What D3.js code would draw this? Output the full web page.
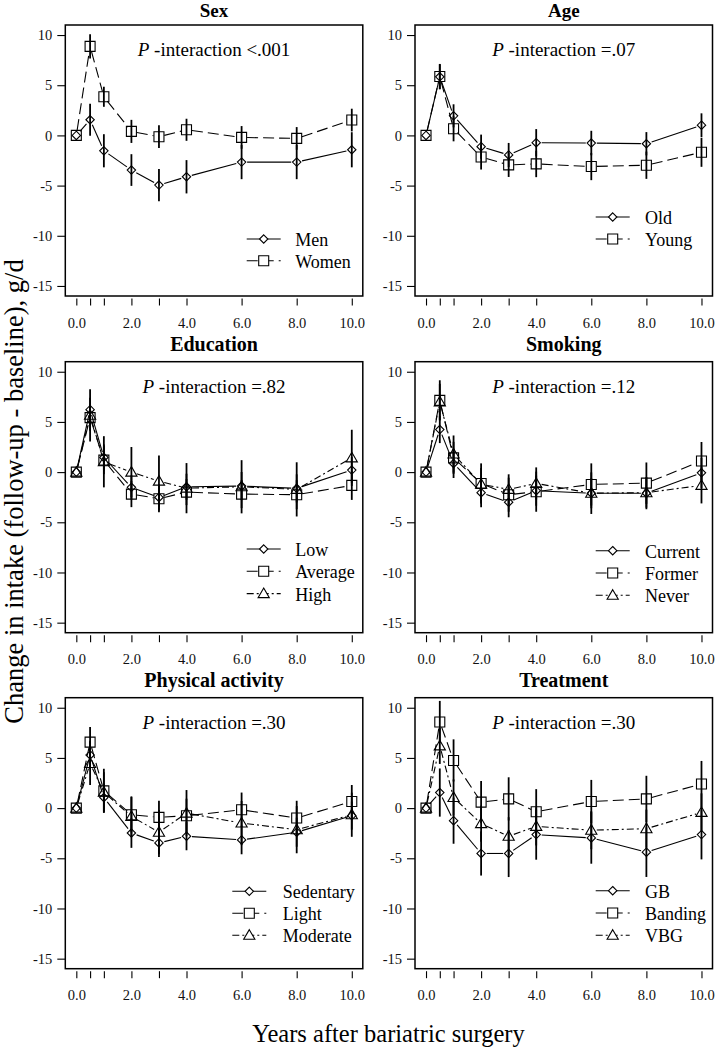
<!DOCTYPE html>
<html><head><meta charset="utf-8">
<script src="https://cdn.jsdelivr.net/npm/d3@7"></script>
<style>
body{margin:0;background:#fff}
svg{display:block;font-family:"Liberation Serif","Times New Roman",serif}
</style>
</head><body>
<svg id="c" width="715" height="1050"></svg>
<script>
// ---------- data ----------
const times = [0, 0.5, 1, 2, 3, 4, 6, 8, 10];
const xTickValues = [0, 0.5, 1, 2, 3, 4, 6, 8, 10];
const xTickLabels = [0, 2, 4, 6, 8, 10];
const yTickValues = [-15, -10, -5, 0, 5, 10];

const panelTitles = ["Sex", "Age", "Education", "Smoking", "Physical activity", "Treatment"];
const pInteraction = ["<.001", "=.07", "=.82", "=.12", "=.30", "=.30"];

// Sex
const men      = [0, 1.56, -1.53, -3.45, -4.95, -4.12, -2.66, -2.66, -1.43];
const menErr   = [0, 1.6, 1.65, 1.58, 1.6, 1.66, 1.7, 1.7, 1.75];
const women    = [0, 8.87, 3.85, 0.4, -0.13, 0.56, -0.2, -0.3, 1.53];
const womenErr = [0, 1.2, 1.0, 1.15, 1.13, 1.1, 1.13, 1.13, 1.13];
// Age
const old      = [0, 5.84, 1.95, -1.12, -1.95, -0.73, -0.76, -0.83, 1.02];
const oldErr   = [0, 1.25, 1.15, 1.2, 1.2, 1.36, 1.22, 1.16, 1.18];
const young    = [0, 5.87, 0.66, -2.15, -2.94, -2.84, -3.1, -2.97, -1.68];
const youngErr = [0, 1.25, 1.25, 1.25, 1.2, 1.32, 1.36, 1.36, 1.45];
// Education
const low        = [0, 6.22, 1.46, -1.52, -2.52, -1.46, -1.39, -1.62, 0.2];
const lowErr     = [0, 1.2, 1.3, 1.2, 1.3, 1.3, 1.4, 1.4, 1.3];
const average    = [0, 5.43, 1.19, -2.19, -2.65, -1.99, -2.19, -2.25, -1.32];
const averageErr = [0, 1.3, 1.4, 1.3, 1.35, 1.3, 1.4, 1.45, 1.45];
const high       = [0, 5.66, 1.03, 0.0, -0.9, -1.6, -1.46, -1.72, 1.42];
const highErr    = [0, 2.6, 2.55, 2.5, 2.55, 2.5, 2.65, 2.7, 2.8];
// Smoking
const current    = [0, 4.24, 0.86, -2.05, -3.0, -1.85, -2.1, -2.1, -0.07];
const currentErr = [0, 1.35, 1.45, 1.45, 1.5, 1.5, 1.5, 1.6, 1.5];
const former     = [0, 7.15, 1.42, -1.13, -2.25, -1.95, -1.23, -1.1, 1.1];
const formerErr  = [0, 2.0, 1.6, 2.0, 1.7, 2.0, 2.1, 2.06, 1.9];
const never      = [0, 7.0, 1.8, -1.2, -1.72, -1.13, -2.1, -2.05, -1.32];
const neverErr   = [0, 1.8, 1.85, 1.6, 1.5, 1.6, 2.07, 1.5, 1.8];
// Physical activity
const sedentary    = [0, 5.3, 1.06, -2.48, -3.47, -2.8, -3.17, -2.4, -0.75];
const sedentaryErr = [0, 1.4, 1.4, 1.48, 1.41, 1.4, 1.43, 1.45, 1.4];
const light        = [0, 6.57, 1.72, -0.66, -0.92, -0.76, -0.17, -0.99, 0.66];
const lightErr     = [0, 1.5, 2.2, 1.76, 1.65, 1.7, 1.72, 1.72, 1.64];
const moderate     = [0, 4.45, 1.58, -0.83, -2.4, -0.5, -1.49, -2.15, -0.66];
const moderateErr  = [0, 2.15, 2.0, 2.0, 2.2, 2.3, 2.2, 2.35, 2.2];
// Treatment
const gb         = [0, 1.55, -1.25, -4.52, -4.52, -2.64, -2.97, -4.39, -2.64];
const gbErr      = [0, 2.4, 2.3, 2.2, 2.35, 2.5, 2.57, 2.47, 2.47];
const banding    = [0, 8.58, 4.75, 0.6, 0.92, -0.36, 0.66, 0.92, 2.4];
const bandingErr = [0, 2.1, 2.1, 2.1, 2.15, 2.25, 2.15, 2.3, 2.3];
const vbg        = [0, 6.2, 1.06, -1.55, -2.8, -1.82, -2.2, -2.05, -0.43];
const vbgErr     = [0, 1.8, 1.8, 1.8, 1.9, 1.9, 1.9, 1.9, 1.9];

const seriesNames = [
  ["Men", "Women"], ["Old", "Young"], ["Low", "Average", "High"],
  ["Current", "Former", "Never"], ["Sedentary", "Light", "Moderate"], ["GB", "Banding", "VBG"]
];
const seriesValues = [
  [men, women], [old, young], [low, average, high],
  [current, former, never], [sedentary, light, moderate], [gb, banding, vbg]
];
const seriesErrs = [
  [menErr, womenErr], [oldErr, youngErr], [lowErr, averageErr, highErr],
  [currentErr, formerErr, neverErr], [sedentaryErr, lightErr, moderateErr], [gbErr, bandingErr, vbgErr]
];

// ---------- layout ----------
const colLeft = [65.3, 415];
const rowTop = [25, 361.7, 697.7];
const boxW = 297.5, boxH = 271;
const legendLayout = [
  {dx: 181.4, dy: 221, sp: 21.7, tx: 48.5},
  {dx: 180.7, dy: 199, sp: 22, tx: 49.3},
  {dx: 181.4, dy: 194.3, sp: 22.3, tx: 48.5},
  {dx: 180.7, dy: 196, sp: 22.3, tx: 49.3},
  {dx: 167, dy: 200.6, sp: 22, tx: 50.4},
  {dx: 180.7, dy: 200, sp: 22.3, tx: 49.3}
];
const dashes = [null, "11,5", "7,3,2,3"];
const FONT = "'Liberation Serif','Times New Roman',serif";

const x = d3.scaleLinear().domain([-0.4, 10.4]).range([0, boxW]);
const y = d3.scaleLinear().domain([-16, 11]).range([boxH, 0]);

const svg = d3.select("#c");

function markerPath(k) {
  if (k === 0) return "M0,-4.2L4.2,0L0,4.2L-4.2,0Z";
  if (k === 1) return "M-5,-5H5V5H-5Z";
  return "M0,-5.6L5.6,4L-5.6,4Z";
}

panelTitles.forEach((title, pi) => {
  const col = pi % 2, row = Math.floor(pi / 2);
  const g = svg.append("g").attr("transform", `translate(${colLeft[col]},${rowTop[row]})`);

  // y axis
  const ya = g.append("g").call(d3.axisLeft(y).tickValues(yTickValues).tickSize(8).tickPadding(5).tickFormat(d3.format("d")));
  ya.attr("font-family", FONT);
  ya.select(".domain").remove();
  ya.selectAll("text").attr("font-size", 14.5).attr("fill", "#111").text(d => d < 0 ? "-" + Math.abs(d) : d);
  ya.selectAll("line").attr("stroke", "#000").attr("stroke-width", 1.1);

  // x axis
  const xa = g.append("g").attr("transform", `translate(0,${boxH + 2.5})`)
    .call(d3.axisBottom(x).tickValues(xTickValues).tickSize(7).tickPadding(12)
      .tickFormat(d => xTickLabels.includes(d) ? d.toFixed(1) : ""));
  xa.attr("font-family", FONT);
  xa.select(".domain").remove();
  xa.selectAll("text").attr("font-size", 14.5).attr("fill", "#111");
  xa.selectAll("line").attr("stroke", "#000").attr("stroke-width", 1.1);

  // box
  g.append("rect").attr("x", 0).attr("y", 0).attr("width", boxW).attr("height", boxH)
    .attr("fill", "none").attr("stroke", "#000").attr("stroke-width", 1.5);

  // title
  const ty = Math.max(-11, 16.5 - rowTop[row]);
  g.append("text").attr("x", boxW / 2).attr("y", ty).attr("text-anchor", "middle")
    .attr("font-size", row === 0 ? 19 : 20).attr("font-weight", "bold").text(title);

  // P-interaction
  const pt = g.append("text").attr("x", boxW / 2).attr("y", 31).attr("text-anchor", "middle").attr("font-size", 19);
  pt.append("tspan").attr("font-style", "italic").text("P");
  pt.append("tspan").text(" -interaction " + pInteraction[pi]);

  const vals = seriesValues[pi], errs = seriesErrs[pi], names = seriesNames[pi];

  // error bars
  vals.forEach((s, si) => {
    g.append("g").selectAll("line").data(times.map((t, i) => ({t, v: s[i], e: errs[si][i]})).filter(d => d.e > 0))
      .join("line")
      .attr("x1", d => x(d.t)).attr("x2", d => x(d.t))
      .attr("y1", d => y(d.v + d.e)).attr("y2", d => y(d.v - d.e))
      .attr("stroke", "#000").attr("stroke-width", 1.8);
  });

  // lines with gaps (type "b")
  const gap = 5.5;
  vals.forEach((s, si) => {
    const segs = [];
    for (let i = 0; i < times.length - 1; i++) {
      const x1 = x(times[i]), y1 = y(s[i]), x2 = x(times[i + 1]), y2 = y(s[i + 1]);
      const L = Math.hypot(x2 - x1, y2 - y1);
      if (L > 2 * gap) {
        const ux = (x2 - x1) / L, uy = (y2 - y1) / L;
        segs.push([x1 + ux * gap, y1 + uy * gap, x2 - ux * gap, y2 - uy * gap]);
      }
    }
    g.append("g").selectAll("line").data(segs).join("line")
      .attr("x1", d => d[0]).attr("y1", d => d[1]).attr("x2", d => d[2]).attr("y2", d => d[3])
      .attr("stroke", "#000").attr("stroke-width", 1.1)
      .attr("stroke-dasharray", dashes[si]);
  });

  // markers
  vals.forEach((s, si) => {
    g.append("g").selectAll("path").data(times.map((t, i) => ({t, v: s[i]})))
      .join("path")
      .attr("transform", d => `translate(${x(d.t)},${y(d.v)})`)
      .attr("d", markerPath(si))
      .attr("fill", "none").attr("stroke", "#000").attr("stroke-width", 1.1);
  });

  // legend
  const L = legendLayout[pi];
  names.forEach((name, si) => {
    const by = L.dy + si * L.sp;
    const ly = by - 7;
    g.append("line").attr("x1", L.dx).attr("x2", L.dx + 34).attr("y1", ly).attr("y2", ly)
      .attr("stroke", "#000").attr("stroke-width", 1.1).attr("stroke-dasharray", dashes[si]);
    g.append("path").attr("transform", `translate(${L.dx + 17},${ly})`).attr("d", markerPath(si))
      .attr("fill", "#fff").attr("stroke", "#000").attr("stroke-width", 1.1);
    g.append("text").attr("x", L.dx + L.tx).attr("y", by).attr("font-size", 18).text(name);
  });
});

// axis titles
svg.append("text").attr("transform", "translate(23,491.5) rotate(-90)").attr("text-anchor", "middle")
  .attr("font-size", 26.5).text("Change in intake (follow-up - baseline), g/d");
svg.append("text").attr("x", 388.5).attr("y", 1041.7).attr("text-anchor", "middle")
  .attr("font-size", 24.5).text("Years after bariatric surgery");
</script>
</body></html>
